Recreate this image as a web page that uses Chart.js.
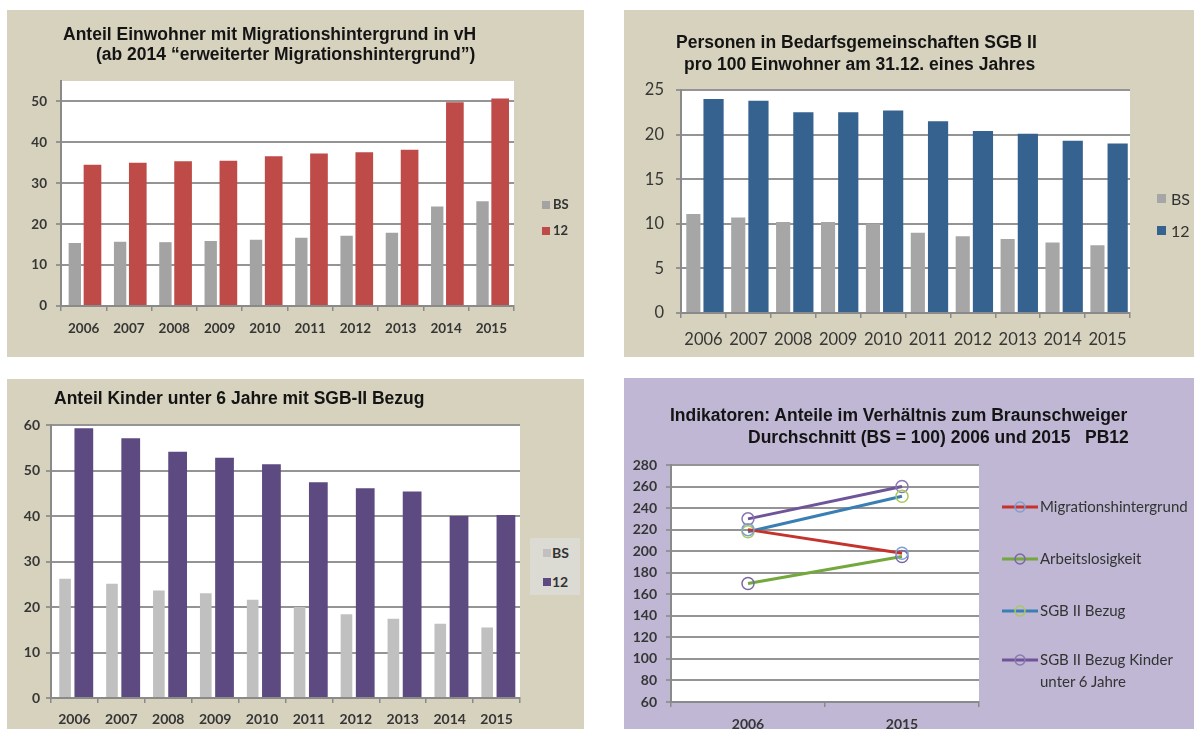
<!DOCTYPE html>
<html>
<head>
<meta charset="utf-8">
<script src="https://cdn.jsdelivr.net/npm/chart.js@4.4.1/dist/chart.umd.min.js"></script>
<style>
  html, body { margin: 0; padding: 0; background: #ffffff; width: 1194px; height: 729px; overflow: hidden; }
  body { position: relative; }
  .panel { position: absolute; }
  .panel canvas { position: absolute; left: 0; top: 0; }
  .beige { background: #d6d2bd; }
  .lilac { background: #bfb7d4; }
  .title { position: absolute; font-family: "Liberation Sans", Arial, sans-serif; font-weight: bold;
           color: #141414; white-space: nowrap; line-height: 1; font-size: 17.5px; }
  .leg { position: absolute; font-family: Lato, sans-serif; color: #333333; white-space: nowrap; line-height: 1; }
  .sw { position: absolute; }
  .legbox { position: absolute; background: #dcdbd3; }
</style>
</head>
<body>

<div class="panel beige" style="left:7px;top:10px;width:577px;height:347px;"><canvas id="c1" width="577" height="347"></canvas></div>
<div class="panel beige" style="left:624px;top:10px;width:570px;height:347px;"><canvas id="c2" width="570" height="347"></canvas></div>
<div class="panel beige" style="left:7px;top:379px;width:577px;height:350px;"><canvas id="c3" width="577" height="350"></canvas></div>
<div class="panel lilac" style="left:624px;top:378px;width:570px;height:351px;"><canvas id="c4" width="570" height="351"></canvas></div>

<!-- titles -->
<div class="title" style="left:63px;top:26px;">Anteil Einwohner mit Migrationshintergrund in vH</div>
<div class="title" style="left:96px;top:46px;">(ab 2014 “erweiterter Migrationshintergrund”)</div>
<div class="title" style="left:676px;top:34px;">Personen in Bedarfsgemeinschaften SGB II</div>
<div class="title" style="left:684px;top:56px;">pro 100 Einwohner am 31.12. eines Jahres</div>
<div class="title" style="left:54px;top:390px;">Anteil Kinder unter 6 Jahre mit SGB-II Bezug</div>
<div class="title" style="left:670px;top:407px;">Indikatoren: Anteile im Verhältnis zum Braunschweiger</div>
<div class="title" style="left:748px;top:429px;">Durchschnitt (BS = 100) 2006 und 2015&nbsp;&nbsp;&nbsp;PB12</div>

<!-- legends, bar charts -->
<div class="sw" style="left:542px;top:201px;width:8px;height:8px;background:#a3a3a3;"></div>
<div class="leg" style="left:553px;top:198px;font-size:13px;font-weight:bold;">BS</div>
<div class="sw" style="left:542px;top:227px;width:8px;height:8px;background:#be4b48;"></div>
<div class="leg" style="left:553px;top:224px;font-size:13px;font-weight:bold;">12</div>

<div class="sw" style="left:1157px;top:194px;width:9px;height:9px;background:#a6a6a6;"></div>
<div class="leg" style="left:1171px;top:191px;font-size:16px;">BS</div>
<div class="sw" style="left:1157px;top:226px;width:9px;height:9px;background:#35628f;"></div>
<div class="leg" style="left:1171px;top:223px;font-size:16px;">12</div>

<div class="legbox" style="left:530px;top:538px;width:50px;height:57px;"></div>
<div class="sw" style="left:543px;top:549px;width:8px;height:8px;background:#c0c0c0;"></div>
<div class="leg" style="left:552px;top:546px;font-size:14px;font-weight:bold;">BS</div>
<div class="sw" style="left:543px;top:578px;width:8px;height:8px;background:#5d4a80;"></div>
<div class="leg" style="left:552px;top:575px;font-size:14px;font-weight:bold;">12</div>

<!-- legend, indicator lines -->
<div id="leg4"></div>

<script>
// Years shown on the bar charts
const years = ['2006', '2007', '2008', '2009', '2010', '2011', '2012', '2013', '2014', '2015'];

// Anteil Einwohner mit Migrationshintergrund (vH)
const migrationBS = [15.4, 15.7, 15.6, 15.9, 16.2, 16.7, 17.2, 17.9, 24.3, 25.6];
const migration12 = [34.5, 35.0, 35.4, 35.5, 36.6, 37.3, 37.6, 38.2, 49.8, 50.7];

// Personen in Bedarfsgemeinschaften SGB II pro 100 Einwohner
const sgbBS = [11.1, 10.7, 10.2, 10.2, 10.0, 9.0, 8.6, 8.3, 7.9, 7.6];
const sgb12 = [24.0, 23.8, 22.5, 22.5, 22.7, 21.5, 20.4, 20.1, 19.3, 19.0];

// Anteil Kinder unter 6 Jahre mit SGB-II Bezug
const kidsBS = [26.2, 25.1, 23.6, 23.0, 21.6, 20.0, 18.4, 17.4, 16.3, 15.5];
const kids12 = [59.3, 57.1, 54.1, 52.8, 51.4, 47.4, 46.1, 45.4, 40.0, 40.2];

// Indikatoren relativ zum Braunschweiger Durchschnitt (BS = 100)
const indicatorYears = ['2006', '2015'];
const indMigration = [220, 198];
const indArbeitslos = [170, 195];
const indSgb = [218, 251];
const indSgbKinder = [230, 260];
const indicatorNames = ['Migrationshintergrund', 'Arbeitslosigkeit', 'SGB II Bezug', 'SGB II Bezug Kinder|unter 6 Jahre'];

// white plotting area behind the grid
const plotBg = {
  id: 'plotBg',
  beforeDraw(chart) {
    const { ctx, chartArea: a } = chart;
    ctx.save();
    ctx.fillStyle = '#ffffff';
    ctx.fillRect(a.left, a.top, a.right - a.left, a.bottom - a.top);
    ctx.restore();
  }
};

const GRID = '#949494';
const AXIS = '#8a8a8a';

function barChart(id, cfg) {
  const font = { family: 'Lato', size: cfg.fontSize, weight: cfg.fontWeight };
  return new Chart(document.getElementById(id), {
    type: 'bar',
    data: {
      labels: years,
      datasets: [
        { label: 'BS', data: cfg.bs, backgroundColor: cfg.grayColor,
          barPercentage: cfg.grayPct, categoryPercentage: cfg.catPct },
        { label: '12', data: cfg.pb, backgroundColor: cfg.color,
          barPercentage: 1, categoryPercentage: cfg.catPct }
      ]
    },
    options: {
      responsive: false, animation: false, devicePixelRatio: 1,
      layout: { padding: { left: 0, top: cfg.top, right: cfg.right, bottom: 0 } },
      plugins: { legend: { display: false }, tooltip: { enabled: false }, title: { display: false } },
      scales: {
        x: {
          grid: { offset: true, drawOnChartArea: false, tickLength: 5, color: AXIS, lineWidth: 1.5 },
          border: { color: AXIS, width: 2 },
          ticks: { font, color: '#363636', padding: cfg.xPad, autoSkip: false, maxRotation: 0 },
          afterFit(s) { s.height = cfg.xh; }
        },
        y: {
          min: 0, max: cfg.max,
          grid: { color: GRID, lineWidth: 2, tickLength: 5 },
          border: { color: AXIS, width: 2 },
          ticks: { stepSize: cfg.step, includeBounds: false, font, color: '#363636', padding: cfg.yPad },
          afterFit(s) { s.width = cfg.yw; }
        }
      }
    },
    plugins: [plotBg]
  });
}

barChart('c1', { bs: migrationBS, pb: migration12, color: '#be4b48', grayColor: '#a3a3a3',
  max: 55, step: 10, top: 71, right: 70, yw: 54, xh: 51, catPct: 0.78, grayPct: 0.7,
  fontSize: 13.5, fontWeight: 'bold', xPad: 10, yPad: 9 });

barChart('c2', { bs: sgbBS, pb: sgb12, color: '#35628f', grayColor: '#a6a6a6',
  max: 25, step: 5, top: 80, right: 64, yw: 57, xh: 44, catPct: 0.9, grayPct: 0.7,
  fontSize: 16.5, fontWeight: 'normal', xPad: 12, yPad: 12 });

barChart('c3', { bs: kidsBS, pb: kids12, color: '#5d4a80', grayColor: '#c0c0c0',
  max: 60, step: 10, top: 46, right: 64, yw: 44, xh: 31, catPct: 0.8, grayPct: 0.62,
  fontSize: 14, fontWeight: 'bold', xPad: 8, yPad: 6 });

// indicator line chart
const lineColors = ['#c4332c', '#74a83c', '#3a7fb3', '#6e5598'];
const markerColors = ['#7f9fd0', '#7a68a6', '#a9c95c', '#8a78b2'];
const indSeries = [indMigration, indArbeitslos, indSgb, indSgbKinder];

new Chart(document.getElementById('c4'), {
  type: 'line',
  data: {
    labels: indicatorYears,
    datasets: indSeries.map((d, i) => ({
      label: indicatorNames[i].replace('|', ' '),
      data: d,
      borderColor: lineColors[i],
      borderWidth: 3,
      pointRadius: 6,
      pointBorderWidth: 1.5,
      pointBorderColor: markerColors[i],
      pointBackgroundColor: 'rgba(0,0,0,0)',
      tension: 0
    }))
  },
  options: {
    responsive: false, animation: false, devicePixelRatio: 1,
    layout: { padding: { left: 0, top: 87, right: 215, bottom: 0 } },
    plugins: { legend: { display: false }, tooltip: { enabled: false } },
    scales: {
      x: {
        offset: true,
        grid: { offset: true, drawOnChartArea: false, tickLength: 5, color: AXIS, lineWidth: 1.5 },
        border: { color: AXIS, width: 2 },
        ticks: { font: { family: 'Lato', size: 14, weight: 'bold' }, color: '#363636', padding: 9, maxRotation: 0 },
        afterFit(s) { s.height = 27; }
      },
      y: {
        min: 60, max: 280,
        grid: { color: GRID, lineWidth: 2, tickLength: 5 },
        border: { color: AXIS, width: 2 },
        ticks: { stepSize: 20, font: { family: 'Lato', size: 14, weight: 'bold' }, color: '#363636', padding: 9 },
        afterFit(s) { s.width = 47; }
      }
    }
  },
  plugins: [plotBg]
});

// legend entries for the indicator chart
(function () {
  const host = document.getElementById('leg4');
  const rows = [507, 559, 611, 660];
  indicatorNames.forEach((name, i) => {
    const y = rows[i];
    const svg = document.createElementNS('http://www.w3.org/2000/svg', 'svg');
    svg.setAttribute('width', '36');
    svg.setAttribute('height', '14');
    svg.style.position = 'absolute';
    svg.style.left = '1002px';
    svg.style.top = (y - 7) + 'px';
    svg.innerHTML =
      '<line x1="0" y1="7" x2="36" y2="7" stroke="' + lineColors[i] + '" stroke-width="3"/>' +
      '<circle cx="18" cy="7" r="5" fill="none" stroke="' + markerColors[i] + '" stroke-width="1.5"/>';
    host.appendChild(svg);
    name.split('|').forEach((part, k) => {
      const t = document.createElement('div');
      t.className = 'leg';
      t.style.left = '1040px';
      t.style.top = (y - 8 + k * 22) + 'px';
      t.style.fontSize = '15px';
      t.textContent = part;
      host.appendChild(t);
    });
  });
})();
</script>
</body>
</html>
